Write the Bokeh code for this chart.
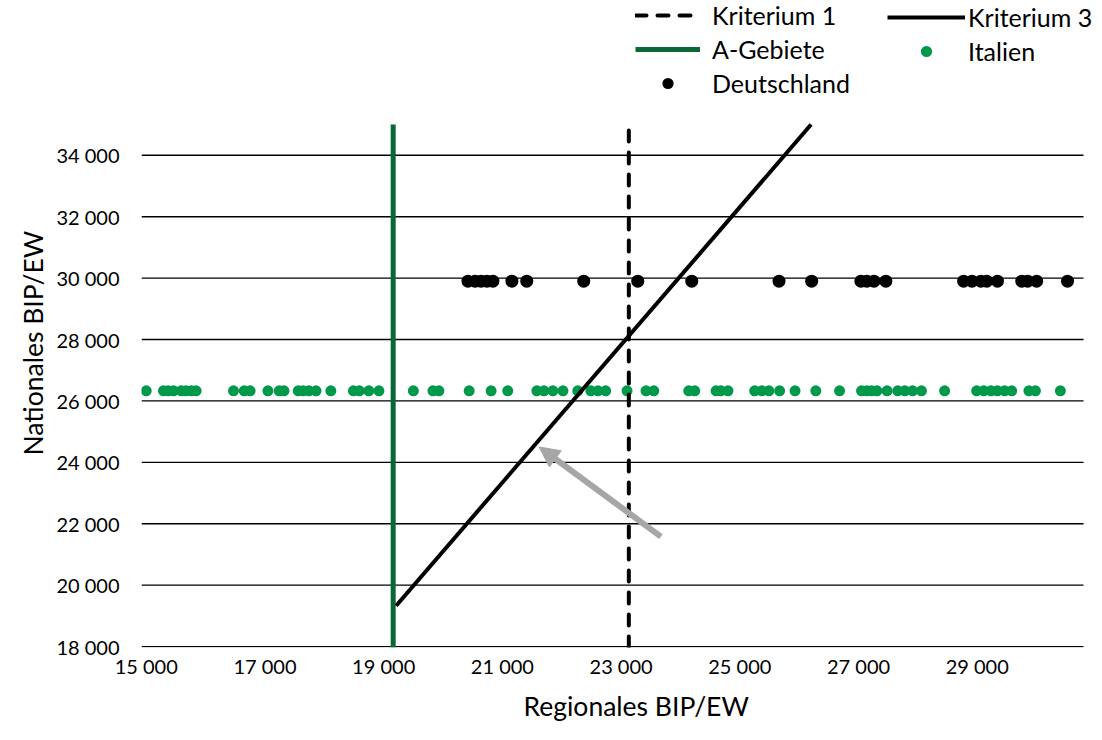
import math
from bokeh.plotting import figure
from bokeh.models import (FixedTicker, Legend, LegendItem, Title, Arrow, NormalHead, Range1d)
from bokeh.embed import file_html
from bokeh.resources import INLINE

FONT = "Lato"

# ---------------- data ----------------
x_ticks = [15000, 17000, 19000, 21000, 23000, 25000, 27000, 29000]
x_tick_labels = ["15 000", "17 000", "19 000", "21 000", "23 000", "25 000", "27 000", "29 000"]
y_ticks = [18000, 20000, 22000, 24000, 26000, 28000, 30000, 32000, 34000]
y_tick_labels = ["18 000", "20 000", "22 000", "24 000", "26 000", "28 000", "30 000", "32 000", "34 000"]

x_title = "Regionales BIP/EW"
y_title = "Nationales BIP/EW"

x_min, x_plot_end, x_canvas_end = 14920, 30790, 30975   # plot area ends at 30 790
y_min, y_top = 17970, 35000                             # plotted value area
y_canvas_top = 39040                                    # room above for the legend

deutschland_national = 29900
deutschland_regional = [20420, 20540, 20640, 20740, 20840, 21160, 21410, 22370, 23280, 24190,
                        25660, 26210, 27040, 27140, 27260, 27460, 28770, 28910, 29060, 29160,
                        29340, 29750, 29850, 30000, 30520]

italien_national = 26330
italien_regional = [15000, 15290, 15370, 15460, 15590, 15670, 15760, 15840, 16470, 16650,
                    16750, 17050, 17240, 17320, 17560, 17640, 17740, 17860, 18110, 18490,
                    18590, 18750, 18920, 19500, 19830, 19930, 20440, 20810, 21090, 21580,
                    21700, 21850, 22020, 22270, 22490, 22610, 22740, 23100, 23420, 23550,
                    24140, 24240, 24600, 24680, 24800, 25250, 25370, 25490, 25670, 25930,
                    26280, 26680, 27050, 27140, 27220, 27310, 27480, 27660, 27780, 27910,
                    28060, 28450, 28990, 29110, 29230, 29340, 29460, 29580, 29870, 29980,
                    30400]

a_gebiete_x = 19160
kriterium1_x = 23130
kriterium3_x = [19210, 26200]
kriterium3_y = [19330, 35000]

arrow_start = (23670, 21580)
arrow_end = (21620, 24500)

# ---------------- colours ----------------
DARK_GREEN = "#0b6836"
DOT_GREEN = "#00994c"
GREY = "#a6a6a6"

p = figure(width=1094, height=732,
           x_range=Range1d(x_min, x_canvas_end), y_range=Range1d(y_min, y_canvas_top),
           output_backend="svg", toolbar_location=None, title=None,
           min_border_left=141, min_border_right=0, min_border_top=0, min_border_bottom=85)
p.outline_line_color = None
p.background_fill_color = "white"
p.border_fill_color = "white"
p.xgrid.visible = False
p.ygrid.visible = False

for ax, ticks, labels, standoff in ((p.xaxis[0], x_ticks, x_tick_labels, 6),
                                    (p.yaxis[0], y_ticks, y_tick_labels, 22)):
    ax.ticker = FixedTicker(ticks=ticks)
    ax.major_label_overrides = {t: l for t, l in zip(ticks, labels)}
    ax.axis_line_color = None
    ax.major_tick_line_color = None
    ax.minor_tick_line_color = None
    ax.major_tick_out = 0
    ax.major_tick_in = 0
    ax.major_label_standoff = standoff
    ax.major_label_text_font = FONT
    ax.major_label_text_font_size = "20px"
    ax.major_label_text_color = "black"

# horizontal grid lines over the plot area only
p.segment(x0=[x_min] * len(y_ticks), y0=y_ticks, x1=[x_plot_end] * len(y_ticks), y1=y_ticks,
          line_color="black", line_width=1.4)

# dots
it = p.scatter(italien_regional, [italien_national] * len(italien_regional),
               size=11, color=DOT_GREEN, line_color=None)
de = p.scatter(deutschland_regional, [deutschland_national] * len(deutschland_regional),
               size=13, color="black", line_color=None)

# lines
ag = p.line([a_gebiete_x, a_gebiete_x], [y_min, y_top], line_color=DARK_GREEN, line_width=5)
k1 = p.line([kriterium1_x, kriterium1_x], [y_min, y_top], line_color="black", line_width=4,
            line_dash="11 11", line_cap="round")
k3 = p.line(kriterium3_x, kriterium3_y, line_color="black", line_width=4)

# arrow
p.add_layout(Arrow(end=NormalHead(size=20, fill_color=GREY, line_color=GREY),
                   x_start=arrow_start[0], y_start=arrow_start[1],
                   x_end=arrow_end[0], y_end=arrow_end[1],
                   line_color=GREY, line_width=6))

# legends
common = dict(orientation="vertical", glyph_height=28, label_height=28, spacing=4,
              padding=0, margin=0, border_line_color=None, background_fill_alpha=0,
              label_text_font=FONT, label_text_font_size="25px", label_text_color="black")
leg_a = Legend(items=[LegendItem(label="Kriterium 1", renderers=[k1]),
                      LegendItem(label="A-Gebiete", renderers=[ag]),
                      LegendItem(label="Deutschland", renderers=[de])],
               location=(494, 549), glyph_width=65, label_standoff=12, **common)
leg_b = Legend(items=[LegendItem(label="Kriterium 3", renderers=[k3]),
                      LegendItem(label="Italien", renderers=[it])],
               location=(746, 581), glyph_width=78, label_standoff=3, **common)
p.add_layout(leg_a)
p.add_layout(leg_b)

# axis titles
p.add_layout(Title(text=x_title, align="left", offset=382, text_font=FONT,
                   text_font_size="26.5px", text_font_style="normal", text_color="black",
                   standoff=15), "below")
p.add_layout(Title(text=y_title, align="left", offset=192, text_font=FONT,
                   text_font_size="26.5px", text_font_style="normal", text_color="black",
                   standoff=10), "left")

open("out.html", "w").write(file_html(p, INLINE))
